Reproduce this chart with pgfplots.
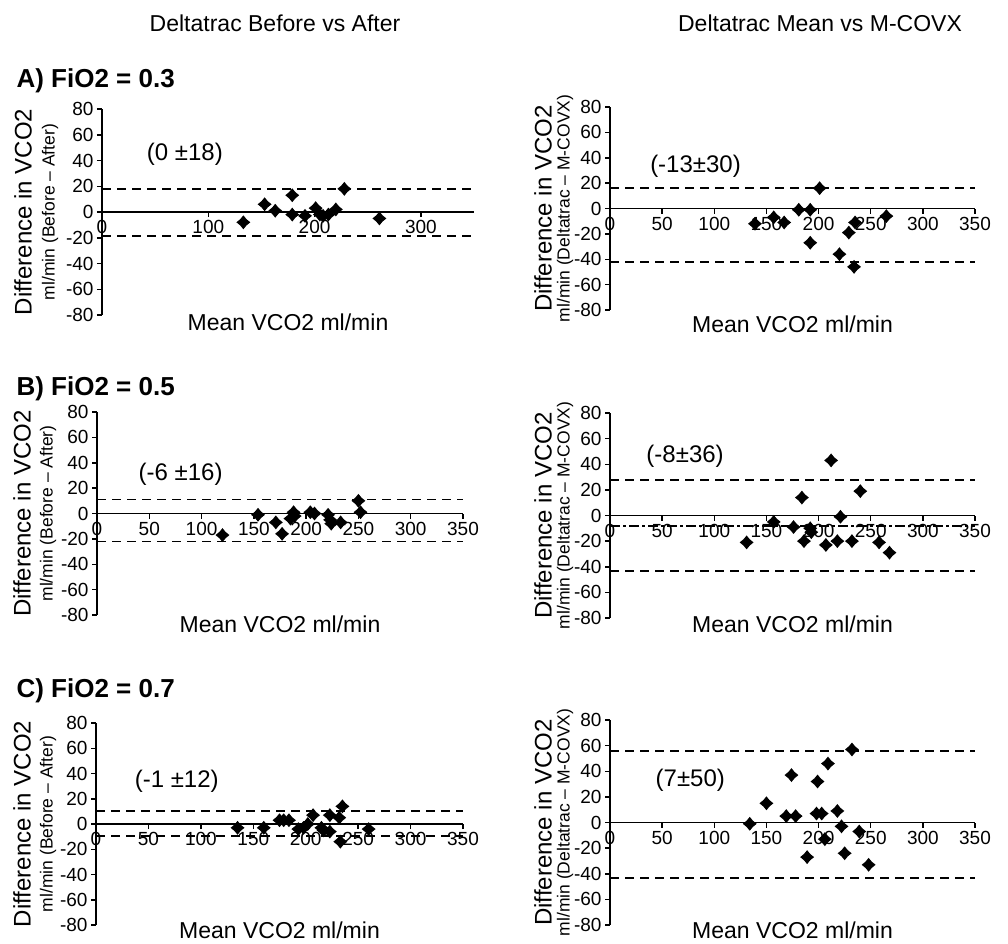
\documentclass[border=0pt]{standalone}
\usepackage{pgfplots}
\pgfplotsset{compat=1.18}
\usepackage{fontspec}
\setmainfont{Liberation Sans}

\newcommand{\fs}[1]{\fontsize{#1}{#1}\selectfont}

% four-point star marker
\pgfdeclareplotmark{star4}{%
  \pgfpathmoveto{\pgfqpoint{0pt}{\pgfplotmarksize}}%
  \pgfpathlineto{\pgfqpoint{0.45\pgfplotmarksize}{0.45\pgfplotmarksize}}%
  \pgfpathlineto{\pgfqpoint{\pgfplotmarksize}{0pt}}%
  \pgfpathlineto{\pgfqpoint{0.45\pgfplotmarksize}{-0.45\pgfplotmarksize}}%
  \pgfpathlineto{\pgfqpoint{0pt}{-\pgfplotmarksize}}%
  \pgfpathlineto{\pgfqpoint{-0.45\pgfplotmarksize}{-0.45\pgfplotmarksize}}%
  \pgfpathlineto{\pgfqpoint{-\pgfplotmarksize}{0pt}}%
  \pgfpathlineto{\pgfqpoint{-0.45\pgfplotmarksize}{0.45\pgfplotmarksize}}%
  \pgfpathclose
  \pgfusepathqfillstroke}

\pgfplotsset{
  ba/.style={
    scale only axis, anchor=south west,
    xmin=0, xmax=350, ymin=-80, ymax=80,
    axis x line=middle, axis y line=left,
    axis line style={-, line width=1.8pt},
    every inner x axis line/.append style={-},
    every outer y axis line/.append style={-},
    hide obscured x ticks=false, hide obscured y ticks=false,
    xtick={0,50,...,350}, ytick={-80,-60,...,80},
    tick align=outside, major tick length=5pt,
    tick style={line width=1.5pt, black},
    tick label style={font=\fs{19}},
    /pgf/number format/assume math mode=true,
    clip=false,
  },
  pts/.style={only marks, mark=star4, mark size=6pt, black,
    mark options={line width=1.2pt}},
  lim/.style={no marks, black, line width=1.8pt, dash pattern=on 9pt off 6pt},
  meanl/.style={no marks, black, line width=1.8pt, dash pattern=on 10pt off 3pt on 3pt off 3pt},
}

% y label pair, offsets from the y axis
\newcommand{\ylab}[3]{%
  \node[rotate=90, font=\fs{24}] at ([xshift=-#1]rel axis cs:0,0.5) {Difference in VCO2};
  \node[rotate=90, font=\fs{17.5}] at ([xshift=-#2]rel axis cs:0,0.5) {ml/min (#3)};
}
\newcommand{\xlab}[1]{%
  \node[anchor=base, font=\fs{23}] at ([yshift=-#1]rel axis cs:0.5,0) {Mean VCO2 ml/min};
}

\begin{document}
\begin{tikzpicture}
\path[use as bounding box] (0,0) rectangle (1008pt,-943pt);

\node[anchor=base, font=\fs{23}] at (275pt,-31pt) {Deltatrac Before vs After};
\node[anchor=base, font=\fs{23}] at (820pt,-31pt) {Deltatrac Mean vs M-COVX};

\node[anchor=base west, font=\fs{26}\bfseries] at (13pt,-87pt) {A) FiO2 = 0.3};
\node[anchor=base west, font=\fs{26}\bfseries] at (13pt,-395pt) {B) FiO2 = 0.5};
\node[anchor=base west, font=\fs{26}\bfseries] at (13pt,-697pt) {C) FiO2 = 0.7};

% ---- A left
\begin{axis}[ba, at={(102pt,-315pt)}, width=372pt, height=206pt, xtick={0,100,200,300}]
\addplot[lim] coordinates {(0,18) (350,18)};
\addplot[lim] coordinates {(0,-18.5) (350,-18.5)};
\addplot[pts] coordinates {
  (133,-8) (153,6) (163,1) (179,13) (179,-2) (191,-3) (201,3)
  (205,-2) (208,-3) (213,-2) (220,2) (228,18) (261,-5)
};
\node[font=\fs{24}] at (axis cs:78,45) {(0 ±18)};
\ylab{79pt}{52pt}{Before – After}
\xlab{15pt}
\end{axis}

% ---- A right
\begin{axis}[ba, at={(610pt,-310pt)}, width=365pt, height=203pt]
\addplot[lim] coordinates {(0,16) (350,16)};
\addplot[lim] coordinates {(0,-42) (350,-42)};
\addplot[pts] coordinates {
  (139,-12) (157,-7) (167,-11) (181,-1) (192,-1) (192,-27) (201,16)
  (220,-36) (229,-19) (235,-11) (234,-46) (265,-6)
};
\node[font=\fs{24}] at (axis cs:82,33) {(-13±30)};
\ylab{67pt}{45pt}{Deltatrac – M-COVX}
\xlab{22pt}
\end{axis}

% ---- B left
\begin{axis}[ba, at={(97pt,-615pt)}, width=366pt, height=203pt]
\addplot[lim] coordinates {(0,11) (350,11)};
\addplot[lim] coordinates {(0,-22) (350,-22)};
\addplot[pts] coordinates {
  (120,-17) (154,-1) (171,-7) (177,-16) (185,-4) (188,1) (189,-2)
  (204,1) (208,0) (221,-1) (223,-5) (224,-8) (233,-7) (250,10) (252,1)
};
\node[font=\fs{24}] at (axis cs:80,31) {(-6 ±16)};
\ylab{75pt}{49pt}{Before – After}
\xlab{17pt}
\end{axis}

% ---- B right
\begin{axis}[ba, at={(610pt,-618pt)}, width=365pt, height=205pt]
\addplot[lim] coordinates {(0,28) (350,28)};
\addplot[lim] coordinates {(0,-43) (350,-43)};
\addplot[meanl] coordinates {(0,-8) (350,-8)};
\addplot[pts] coordinates {
  (131,-21) (157,-5) (176,-9) (184,14) (186,-20) (192,-10) (193,-13)
  (212,43) (207,-23) (218,-20) (221,-1) (232,-20) (240,19) (258,-21) (268,-29)
};
\node[font=\fs{24}] at (axis cs:72,46) {(-8±36)};
\ylab{67pt}{45pt}{Deltatrac – M-COVX}
\xlab{14pt}
\end{axis}

% ---- C left
\begin{axis}[ba, at={(96pt,-925pt)}, width=367pt, height=202pt]
\addplot[lim] coordinates {(0,10) (350,10)};
\addplot[lim] coordinates {(0,-9.5) (350,-9.5)};
\addplot[pts] coordinates {
  (135,-3) (160,-3) (175,3) (179,3) (184,3) (193,-4) (198,-3) (202,0)
  (207,7) (215,-3) (217,-5) (223,-6) (223,7) (232,5) (233,-14) (235,14) (260,-4)
};
\node[font=\fs{24}] at (axis cs:77,34) {(-1 ±12)};
\ylab{74pt}{48pt}{Before – After}
\xlab{13pt}
\end{axis}

% ---- C right
\begin{axis}[ba, at={(610pt,-925pt)}, width=365pt, height=205pt]
\addplot[lim] coordinates {(0,56) (350,56)};
\addplot[lim] coordinates {(0,-43) (350,-43)};
\addplot[pts] coordinates {
  (134,-1) (150,15) (169,5) (174,37) (178,5) (189,-27) (199,32) (198,7)
  (203,7) (206,-13) (209,46) (218,9) (222,-3) (225,-24) (232,57) (239,-7) (248,-33)
};
\node[font=\fs{24}] at (axis cs:77,33) {(7±50)};
\ylab{67pt}{45pt}{Deltatrac – M-COVX}
\xlab{13pt}
\end{axis}
\end{tikzpicture}
\end{document}
